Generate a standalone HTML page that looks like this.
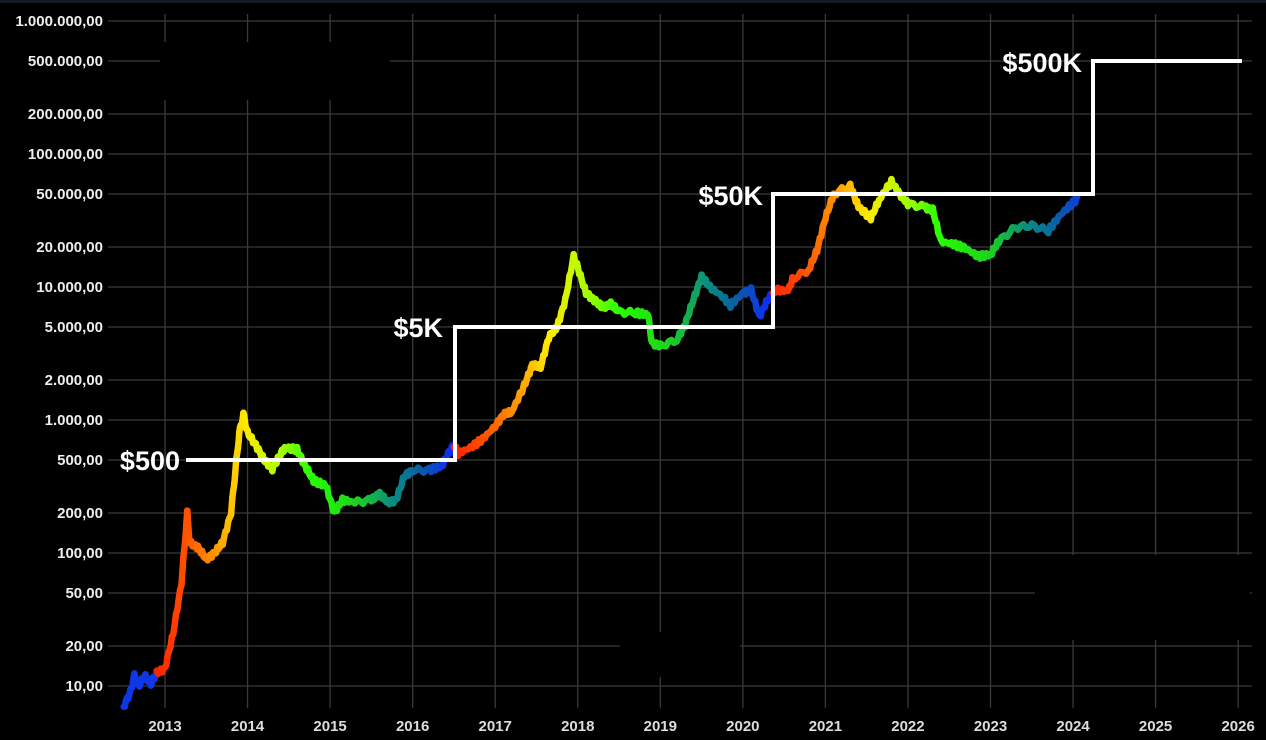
<!DOCTYPE html>
<html><head><meta charset="utf-8"><style>
html,body{margin:0;padding:0;background:#000;}
svg{display:block}
text{font-family:"Liberation Sans",sans-serif;font-weight:bold;}
</style></head><body>
<svg id="s" width="1266" height="740" viewBox="0 0 1266 740" xmlns="http://www.w3.org/2000/svg">
<rect width="1266" height="740" fill="#000"/>
<rect width="1266" height="3" fill="#161a22"/>
<g id="grid" stroke="#3a3a3a" stroke-width="1.3"></g>
<g id="ylab" fill="#eee" font-size="15" text-anchor="end"></g>
<g id="xlab" fill="#ddd" font-size="15" text-anchor="middle"></g>
<g fill="#000">
<rect x="160" y="42" width="230" height="58"/>
<rect x="1035" y="555" width="215" height="85"/>
<rect x="620" y="632" width="120" height="45"/>
</g>
<g id="series" stroke-linecap="round" stroke-linejoin="round" fill="none"></g>
<polyline points="186,460 455,460 455,327 773,327 773,194 1093,194 1093,61 1242,61" fill="none" stroke="#fff" stroke-width="4"/>
<g fill="#fff" font-size="27">
<text x="180" y="470" text-anchor="end">$500</text>
<text x="443" y="337" text-anchor="end">$5K</text>
<text x="763" y="205" text-anchor="end">$50K</text>
<text x="1082" y="72" text-anchor="end">$500K</text>
</g>
</svg>
<script>
const NS="http://www.w3.org/2000/svg";
const X=t=>165+(t-2013)*82.55;
const Y=p=>686-133*Math.log10(p/10);
const g=document.getElementById('grid'),yl=document.getElementById('ylab'),xl=document.getElementById('xlab'),se=document.getElementById('series');
function el(tag,a,parent,txt){const e=document.createElementNS(NS,tag);for(const k in a)e.setAttribute(k,a[k]);if(txt)e.textContent=txt;parent.appendChild(e);return e;}
const ys=[[1e6,"1.000.000,00"],[5e5,"500.000,00"],[2e5,"200.000,00"],[1e5,"100.000,00"],[5e4,"50.000,00"],[2e4,"20.000,00"],[1e4,"10.000,00"],[5e3,"5.000,00"],[2e3,"2.000,00"],[1e3,"1.000,00"],[500,"500,00"],[200,"200,00"],[100,"100,00"],[50,"50,00"],[20,"20,00"],[10,"10,00"]];
ys.forEach(([v,s])=>{const y=Y(v);el('line',{x1:108,x2:1252,y1:y,y2:y},g);el('text',{x:103,y:y+5},yl,s);});
for(let yr=2013;yr<=2026;yr++){const x=X(yr);el('line',{x1:x,x2:x,y1:14,y2:708},g);el('text',{x:x,y:731},xl,String(yr));}
const k=[[2012.5,7],[2012.58,9],[2012.63,12],[2012.68,10],[2012.75,12],[2012.83,10.5],[2012.9,12.5],[2013.0,13.5],[2013.1,25],[2013.2,60],[2013.27,200],[2013.3,120],[2013.4,110],[2013.5,90],[2013.6,100],[2013.7,120],[2013.8,200],[2013.85,400],[2013.9,800],[2013.95,1100],[2014.0,800],[2014.1,650],[2014.2,500],[2014.3,430],[2014.4,550],[2014.45,620],[2014.6,600],[2014.7,450],[2014.8,350],[2014.95,320],[2015.05,200],[2015.15,250],[2015.3,240],[2015.5,250],[2015.6,280],[2015.7,240],[2015.8,250],[2015.9,380],[2016.0,420],[2016.2,420],[2016.35,450],[2016.45,580],[2016.5,650],[2016.55,560],[2016.7,620],[2016.85,720],[2017.0,900],[2017.1,1100],[2017.2,1150],[2017.35,1800],[2017.45,2600],[2017.55,2500],[2017.65,4200],[2017.75,5000],[2017.85,8000],[2017.95,17000],[2018.0,14000],[2018.1,9000],[2018.2,8000],[2018.3,7000],[2018.4,7500],[2018.5,6500],[2018.7,6400],[2018.85,6200],[2018.9,3800],[2019.0,3600],[2019.2,4000],[2019.3,5200],[2019.4,8000],[2019.5,12000],[2019.6,10000],[2019.75,8500],[2019.85,7300],[2020.0,9000],[2020.1,9500],[2020.2,6000],[2020.3,8000],[2020.4,9500],[2020.55,9300],[2020.6,11500],[2020.8,13500],[2020.9,19000],[2021.0,33000],[2021.1,50000],[2021.3,58000],[2021.4,40000],[2021.55,33000],[2021.65,45000],[2021.8,62000],[2021.9,50000],[2022.0,42000],[2022.2,40000],[2022.3,38000],[2022.4,22000],[2022.55,21000],[2022.7,19500],[2022.85,17000],[2023.0,17500],[2023.1,22000],[2023.3,28000],[2023.5,29000],[2023.7,26500],[2023.85,35000],[2024.0,43000],[2024.05,46000]];
const halv=[2008.9,2012.9,2016.5,2020.36,2024.25];
const stops=[[0,[255,32,0]],[0.1,[255,80,0]],[0.2,[255,150,0]],[0.3,[255,235,0]],[0.42,[170,255,0]],[0.52,[40,255,0]],[0.68,[30,210,30]],[0.8,[10,140,130]],[0.9,[10,90,170]],[1,[16,40,255]]];
function col(t){let f=0;for(let i=halv.length-2;i>=0;i--){if(t>=halv[i]){f=(t-halv[i])/(halv[i+1]-halv[i]);break;}}
 if(t<2012.9)f=0.97;
 for(let i=0;i<stops.length-1;i++){const[a,ca]=stops[i],[b,cb]=stops[i+1];if(f>=a&&f<=b){const u=(f-a)/(b-a);return `rgb(${ca.map((v,j)=>Math.round(v+(cb[j]-v)*u)).join(',')})`;}}return 'rgb(16,40,255)';}
for(let i=0;i<k.length-1;i++){
 const [t1,p1]=k[i],[t2,p2]=k[i+1];const n=6;
 for(let j=0;j<n;j++){
  const a=j/n,b=(j+1)/n;
  const ta=t1+(t2-t1)*a,tb=t1+(t2-t1)*b;
  const la=Math.log10(p1)+(Math.log10(p2)-Math.log10(p1))*a,lb=Math.log10(p1)+(Math.log10(p2)-Math.log10(p1))*b;
  const ja=Math.sin(ta*137)*2.5,jb=Math.sin(tb*137)*2.5;
  el('line',{x1:X(ta),y1:Y(Math.pow(10,la))+ja,x2:X(tb),y2:Y(Math.pow(10,lb))+jb,stroke:col((ta+tb)/2),'stroke-width':6.5},se);
 }
}
</script>
</body></html>
